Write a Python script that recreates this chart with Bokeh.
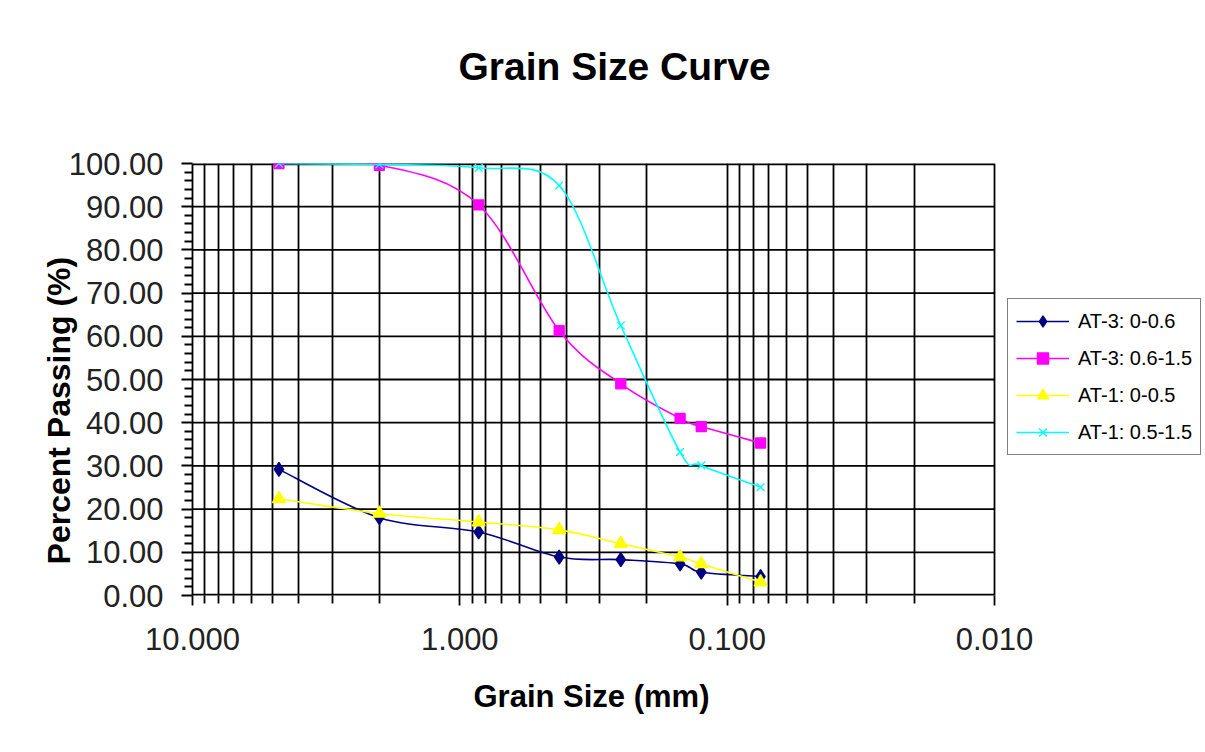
import numpy as np
from bokeh.plotting import figure
from bokeh.models import (Range1d, FixedTicker, PrintfTickFormatter, Legend, LegendItem,
                          ColumnDataSource, Title)
from bokeh.embed import file_html
from bokeh.resources import INLINE

# ---- data ----
SIEVE_MM = [4.75, 2.0, 0.85, 0.425, 0.25, 0.15, 0.125, 0.075]
AT3_0_06 = [29.2, 18.0, 14.7, 8.9, 8.3, 7.3, 5.4, 4.4]
AT3_06_15 = [100.0, 99.6, 90.4, 61.3, 49.0, 41.0, 39.1, 35.3]
AT1_0_05 = [22.4, 19.0, 17.0, 15.2, 12.0, 8.9, 7.3, 3.1]
AT1_05_15 = [100.0, 99.8, 99.0, 94.9, 62.5, 33.2, 30.1, 25.1]
SERIES_NAMES = ["AT-3: 0-0.6", "AT-3: 0.6-1.5", "AT-1: 0-0.5", "AT-1: 0.5-1.5"]
SERIES_COLORS = ["#000080", "#FF00FF", "#FFFF00", "#00FFFF"]
SERIES_MARKERS = ["diamond", "square", "triangle", "x"]
X_TICKS = [10, 1, 0.1, 0.01]
X_MINOR = [m * d for d in (1, 0.1, 0.01) for m in range(2, 10)]
Y_TICKS = list(range(0, 101, 10))
Y_MINOR = [v for v in range(0, 101, 2) if v % 10]

FONT = "Liberation Sans"
NBSP = "\u00a0"

# ---- layout (pixels) ----
W, H = 1205, 752
PLOT_L, PLOT_R, PLOT_T, PLOT_B = 192, 994, 163, 595
# the frame is extended to the right edge so the legend (which sits to the
# right of the plot area) is not clipped; the x range is extended to match
decades = np.log10(X_TICKS[0] / X_TICKS[-1])
px_per_decade = (PLOT_R - PLOT_L) / decades
X_END = X_TICKS[-1] / 10 ** ((W - PLOT_R) / px_per_decade)

p = figure(width=W, height=H, x_axis_type="log", title=None,
           x_range=Range1d(X_TICKS[0], X_END), y_range=Range1d(Y_TICKS[0], Y_TICKS[-1]),
           output_backend="svg", toolbar_location=None,
           min_border_left=PLOT_L, min_border_top=PLOT_T,
           min_border_right=0, min_border_bottom=H - PLOT_B)
p.background_fill_color = "white"
p.border_fill_color = "white"
p.outline_line_color = None

xax = p.below[0]
yax = p.left[0]

# axes
for ax in (xax, yax):
    ax.axis_line_color = "black"
    ax.axis_line_width = 1.8
    ax.major_tick_line_color = "black"
    ax.major_tick_line_width = 1.8
    ax.minor_tick_line_color = "black"
    ax.minor_tick_line_width = 1.8
    ax.major_tick_in = 0
    ax.minor_tick_in = 0
    ax.major_label_text_font = FONT
    ax.major_label_text_font_size = "31px"
    ax.major_label_text_color = "#222222"
    ax.axis_label_text_font = FONT
    ax.axis_label_text_font_size = "32px"
    ax.axis_label_text_font_style = "bold"
    ax.axis_label_text_color = "black"

xax.ticker = FixedTicker(ticks=X_TICKS, minor_ticks=X_MINOR)
xax.formatter = PrintfTickFormatter(format="%.3f")
xax.axis_line_color = None
xax.major_tick_out = 10
xax.minor_tick_out = 8
xax.major_label_standoff = 22

yax.ticker = FixedTicker(ticks=Y_TICKS, minor_ticks=Y_MINOR)
yax.formatter = PrintfTickFormatter(format="%.2f")
yax.major_tick_out = 11
yax.minor_tick_out = 8
yax.major_label_standoff = 18
yax.axis_label = "Percent Passing (%)" + NBSP * 7
yax.axis_label_standoff = -11


def spacer_title(standoff):
    """A blank title used only to reserve space in a side panel."""
    return Title(text=NBSP, text_font=FONT, text_font_size="10px",
                 text_color="white", standoff=standoff)


# chart title (a blank spacer keeps it well above the plot area)
p.add_layout(spacer_title(23), "above")
p.add_layout(Title(text="Grain Size Curve", align="left", vertical_align="bottom",
                   offset=266, standoff=80, text_font=FONT, text_font_size="39px",
                   text_font_style="bold", text_color="black"), "above")

# x-axis title
p.add_layout(spacer_title(0), "below")
p.add_layout(Title(text="Grain Size (mm)", align="left", vertical_align="top",
                   offset=473 - PLOT_L, standoff=26,
                   text_font=FONT, text_font_size="31px", text_font_style="bold",
                   text_color="black"), "below")

# grids: vertical (log) gridlines from the ticker, horizontal ones only across the plot area
p.xgrid.ticker = xax.ticker
p.xgrid.grid_line_color = "black"
p.xgrid.grid_line_width = 1.8
p.xgrid.minor_grid_line_color = "black"
p.xgrid.minor_grid_line_width = 1.8
p.ygrid.grid_line_color = None

inner = Y_TICKS[1:-1]
p.segment(x0=[X_TICKS[0]] * len(inner), x1=[X_TICKS[-1]] * len(inner),
          y0=inner, y1=inner, line_color="black", line_width=1.8)
edges = [Y_TICKS[0], Y_TICKS[-1]]
p.segment(x0=[X_TICKS[0]] * 2, x1=[X_TICKS[-1]] * 2, y0=edges, y1=edges,
          line_color="black", line_width=3.6)


def smooth_source(xs, ys):
    """Excel-style smoothed line: cubic Bezier segments in screen-linear space."""
    lx = np.log10(np.asarray(xs, dtype=float))
    yy = np.asarray(ys, dtype=float)
    P = np.column_stack([lx, yy])
    n = len(P)
    d = {k: [] for k in ("x0", "y0", "x1", "y1", "cx0", "cy0", "cx1", "cy1")}
    for i in range(n - 1):
        p0, p1, p2, p3 = P[max(i - 1, 0)], P[i], P[i + 1], P[min(i + 2, n - 1)]
        c1 = p1 + (p2 - p0) / 6.0
        c2 = p2 - (p3 - p1) / 6.0
        d["x0"].append(10 ** p1[0]); d["y0"].append(p1[1])
        d["x1"].append(10 ** p2[0]); d["y1"].append(p2[1])
        d["cx0"].append(10 ** c1[0]); d["cy0"].append(c1[1])
        d["cx1"].append(10 ** c2[0]); d["cy1"].append(c2[1])
    return ColumnDataSource(d)


series = [AT3_0_06, AT3_06_15, AT1_0_05, AT1_05_15]
sizes = {"diamond": 14, "square": 10, "triangle": 13, "x": 11}
items = []
for name, vals, col, mk in zip(SERIES_NAMES, series, SERIES_COLORS, SERIES_MARKERS):
    src = smooth_source(SIEVE_MM, vals)
    br = p.bezier(x0="x0", y0="y0", x1="x1", y1="y1", cx0="cx0", cy0="cy0",
                  cx1="cx1", cy1="cy1", source=src, line_color=col, line_width=1.6)
    sr = p.scatter(x=SIEVE_MM, y=vals, marker=mk, size=sizes[mk],
                   fill_color=col, line_color=col, line_width=1.3)
    items.append(LegendItem(label=name, renderers=[br, sr]))

legend = Legend(items=items, location=(1007 - PLOT_L, 140),
                border_line_color="black", border_line_width=1.3,
                background_fill_color="white", background_fill_alpha=1,
                padding=8, spacing=9, margin=0,
                glyph_width=53, glyph_height=28, label_height=28,
                label_standoff=9,
                label_text_font=FONT, label_text_font_size="20px",
                label_text_color="black")
p.add_layout(legend, "center")

open("out.html", "w").write(file_html(p, INLINE))
